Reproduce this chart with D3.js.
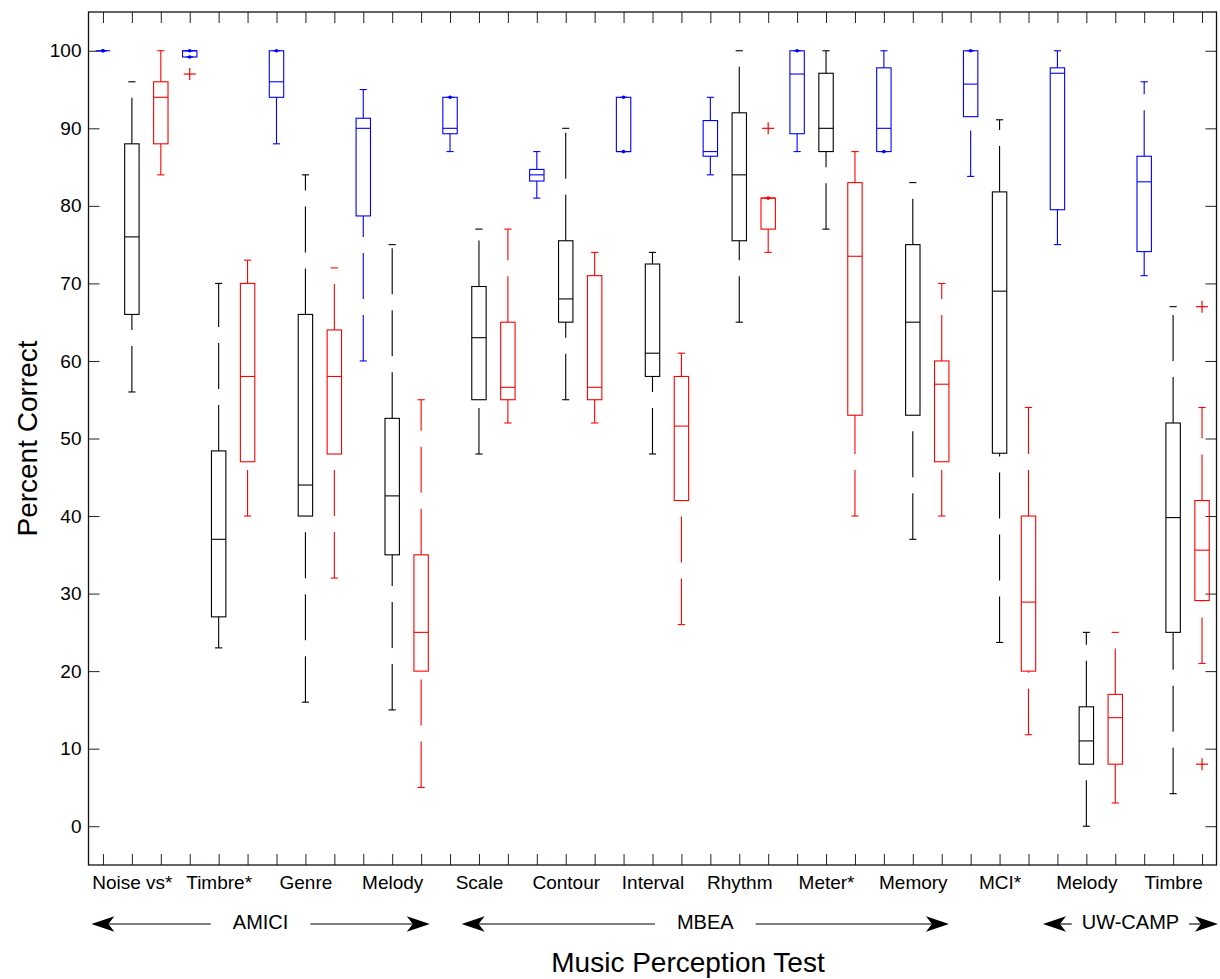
<!DOCTYPE html>
<html lang="en">
<head>
<meta charset="UTF-8">
<title>Music Perception Test</title>
<style>
    body { margin: 0; padding: 0; background: #fff; }
    svg { display: block; font-family: "Liberation Sans", Arial, sans-serif; }
    .tick-label { font-size: 19px; fill: #000; }
    .group-label { font-size: 20px; fill: #000; }
    .axis-title { font-size: 28px; fill: #000; }
</style>
</head>
<body>
<svg id="chart"></svg>
<script src="https://cdnjs.cloudflare.com/ajax/libs/d3/7.9.0/d3.min.js"></script>
<script>
    // test names along the x axis (one label per triple of boxes)
    const tests = ['Noise vs*', 'Timbre*', 'Genre', 'Melody', 'Scale', 'Contour', 'Interval',
        'Rhythm', 'Meter*', 'Memory', 'MCI*', 'Melody', 'Timbre'];

    // five-number summaries per test: [min, q1, median, q3, max]
    const blueStats = [
        [100, 100, 100, 100, 100],
        [99.2, 99.2, 100, 100, 100],
        [88, 94, 96, 100, 100],
        [60, 78.7, 90, 91.3, 95],
        [87, 89.3, 90, 94, 94],
        [81, 83.2, 84, 84.7, 87],
        [87, 87, 87, 94, 94],
        [84, 86.4, 87, 91, 94],
        [87, 89.3, 97, 100, 100],
        [87, 87, 90, 97.8, 100],
        [83.8, 91.5, 95.7, 100, 100],
        [75, 79.5, 97.1, 97.8, 100],
        [71, 74.1, 83.1, 86.4, 96]
    ];
    const blackStats = [
        [56, 66, 76, 88, 96],
        [23, 27, 37, 48.4, 70],
        [16, 40, 44, 66, 84],
        [15, 35, 42.6, 52.6, 75],
        [48, 55, 63, 69.6, 77],
        [55, 65, 68, 75.5, 90],
        [48, 58, 61, 72.5, 74],
        [65, 75.5, 84, 92, 100],
        [77, 87, 90, 97.1, 100],
        [37, 53, 65, 75, 83],
        [23.7, 48.1, 69, 81.8, 91.1],
        [0, 8, 11, 15.4, 25],
        [4.2, 25, 39.8, 52, 67]
    ];
    const redStats = [
        [84, 88, 94, 96, 100],
        [40, 47, 58, 70, 73],
        [32, 48, 58, 64, 72],
        [5, 20, 25, 35, 55],
        [52, 55, 56.6, 65, 77],
        [52, 55, 56.6, 71, 74],
        [26, 42, 51.6, 58, 61],
        [74, 77, 81, 81, 81],
        [40, 53, 73.5, 83, 87],
        [40, 47, 57, 60, 70],
        [11.8, 20, 28.9, 40, 54],
        [3, 8, 14, 17, 25],
        [21, 29.1, 35.6, 42, 54]
    ];

    // outliers: [series index, test index, value]
    const outliers = [
        [0, 1, 97],
        [2, 7, 90],
        [2, 12, 67],
        [2, 12, 8]
    ];

    // test batteries shown under the axis, in box-position units
    const batteries = [
        { name: 'AMICI', from: 0.6, to: 12.3, gap: 22 },
        { name: 'MBEA', from: 13.4, to: 30.25, gap: 22 },
        { name: 'UW-CAMP', from: 33.5, to: 39.55, gap: 10 }
    ];

    const yTicks = d3.range(0, 101, 10);

    const series = [
        { stats: blueStats, color: '#0000ff' },
        { stats: blackStats, color: '#000000' },
        { stats: redStats, color: '#ff0000' }
    ];

    const width = 1220, height = 979;
    const margin = { top: 12, right: 3.5, bottom: 114, left: 88.5 };

    const svg = d3.select('#chart').attr('width', width).attr('height', height);

    const nPos = tests.length * 3;
    const x = d3.scaleLinear().domain([0.5, nPos + 0.5]).range([margin.left, width - margin.right]);
    const y = d3.scaleLinear().domain([-5, 105]).range([height - margin.bottom, margin.top]);
    const pos = (t, s) => t * 3 + s + 1;

    const boxW = 14.4, capW = 7.2, tick = 11;

    // axes (ticks point inward on all four sides)
    const gx = svg.append('g').attr('transform', `translate(0,${y.range()[0]})`)
        .call(d3.axisBottom(x).tickValues(d3.range(1, nPos + 1)).tickSizeInner(-tick).tickSizeOuter(0)
            .tickPadding(11).tickFormat(d => (d - 2) % 3 === 0 ? tests[(d - 2) / 3] : ''));
    gx.selectAll('text').attr('class', 'tick-label').attr('font-size', null).attr('font-family', null);

    svg.append('g').attr('transform', `translate(0,${y.range()[1]})`)
        .call(d3.axisTop(x).tickValues(d3.range(1, nPos + 1)).tickSizeInner(-tick).tickSizeOuter(0).tickFormat(''));

    const gy = svg.append('g').attr('transform', `translate(${x.range()[0]},0)`)
        .call(d3.axisLeft(y).tickValues(yTicks).tickSizeInner(-tick).tickSizeOuter(0).tickPadding(7));
    gy.selectAll('text').attr('class', 'tick-label').attr('font-size', null).attr('font-family', null);

    svg.append('g').attr('transform', `translate(${x.range()[1]},0)`)
        .call(d3.axisRight(y).tickValues(yTicks).tickSizeInner(-tick).tickSizeOuter(0).tickFormat(''));

    svg.selectAll('.domain').remove();
    svg.selectAll('.tick line').attr('stroke', '#222').attr('stroke-width', 1);

    svg.append('rect')
        .attr('x', x.range()[0]).attr('y', y.range()[1])
        .attr('width', x.range()[1] - x.range()[0])
        .attr('height', y.range()[0] - y.range()[1])
        .attr('fill', 'none').attr('stroke', '#111').attr('stroke-width', 1.3);

    // boxes
    const boxes = [];
    series.forEach((s, si) => s.stats.forEach((st, ti) => {
        boxes.push({ p: pos(ti, si), color: s.color, min: st[0], q1: st[1], med: st[2], q3: st[3], max: st[4] });
    }));

    const g = svg.append('g').attr('fill', 'none').attr('stroke-width', 1.1);

    const bx = g.selectAll('g.box').data(boxes).enter().append('g')
        .attr('class', 'box').attr('stroke', d => d.color);

    // whiskers are dashed, drawn from the lower value upward
    bx.append('line')
        .attr('x1', d => x(d.p)).attr('x2', d => x(d.p))
        .attr('y1', d => y(d.q3)).attr('y2', d => y(d.max))
        .attr('stroke-dasharray', '46,16');
    bx.append('line')
        .attr('x1', d => x(d.p)).attr('x2', d => x(d.p))
        .attr('y1', d => y(d.min)).attr('y2', d => y(d.q1))
        .attr('stroke-dasharray', '46,16');

    bx.append('line')
        .attr('x1', d => x(d.p) - capW / 2).attr('x2', d => x(d.p) + capW / 2)
        .attr('y1', d => y(d.max)).attr('y2', d => y(d.max));
    bx.append('line')
        .attr('x1', d => x(d.p) - capW / 2).attr('x2', d => x(d.p) + capW / 2)
        .attr('y1', d => y(d.min)).attr('y2', d => y(d.min));

    bx.append('rect')
        .attr('x', d => x(d.p) - boxW / 2).attr('width', boxW)
        .attr('y', d => y(d.q3)).attr('height', d => y(d.q1) - y(d.q3));

    bx.append('line')
        .attr('x1', d => x(d.p) - boxW / 2).attr('x2', d => x(d.p) + boxW / 2)
        .attr('y1', d => y(d.med)).attr('y2', d => y(d.med));

    // zero-length whiskers show up as a small dot
    const dots = [];
    boxes.forEach(b => {
        if (b.max === b.q3) dots.push({ p: b.p, v: b.max, color: b.color });
        if (b.min === b.q1) dots.push({ p: b.p, v: b.min, color: b.color });
    });
    svg.append('g').selectAll('circle').data(dots).enter().append('circle')
        .attr('cx', d => x(d.p)).attr('cy', d => y(d.v)).attr('r', 1.8)
        .attr('fill', d => d.color);

    // outliers
    const og = svg.append('g').attr('stroke', '#ff0000').attr('stroke-width', 1.2);
    const ol = og.selectAll('g').data(outliers).enter().append('g')
        .attr('transform', d => `translate(${x(pos(d[1], d[0]))},${y(d[2])})`);
    ol.append('line').attr('x1', -6).attr('x2', 6);
    ol.append('line').attr('y1', -6).attr('y2', 6);

    // battery arrows under the axis
    const arrowY = 924;
    const head = 'M0,0L-23,-7.8L-17,0L-23,7.8Z';
    batteries.forEach(b => {
        const x0 = x(b.from), x1 = x(b.to), xm = (x0 + x1) / 2;
        const t = svg.append('text').attr('class', 'group-label')
            .attr('x', xm).attr('y', arrowY + 5).attr('text-anchor', 'middle').text(b.name);
        const w = t.node().getComputedTextLength();
        svg.append('line').attr('x1', x0 + 10).attr('x2', xm - w / 2 - b.gap)
            .attr('y1', arrowY).attr('y2', arrowY).attr('stroke', '#000').attr('stroke-width', 1.1);
        svg.append('line').attr('x1', xm + w / 2 + b.gap).attr('x2', x1 - 10)
            .attr('y1', arrowY).attr('y2', arrowY).attr('stroke', '#000').attr('stroke-width', 1.1);
        svg.append('path').attr('d', head).attr('fill', '#000')
            .attr('transform', `translate(${x0},${arrowY}) rotate(180)`);
        svg.append('path').attr('d', head).attr('fill', '#000')
            .attr('transform', `translate(${x1},${arrowY})`);
    });

    // axis titles
    svg.append('text').attr('class', 'axis-title')
        .attr('x', 688).attr('y', 972).attr('text-anchor', 'middle')
        .text('Music Perception Test');
    svg.append('text').attr('class', 'axis-title')
        .attr('transform', `translate(37,${(y.range()[0] + y.range()[1]) / 2}) rotate(-90)`)
        .attr('text-anchor', 'middle')
        .text('Percent Correct');
</script>
</body>
</html>
